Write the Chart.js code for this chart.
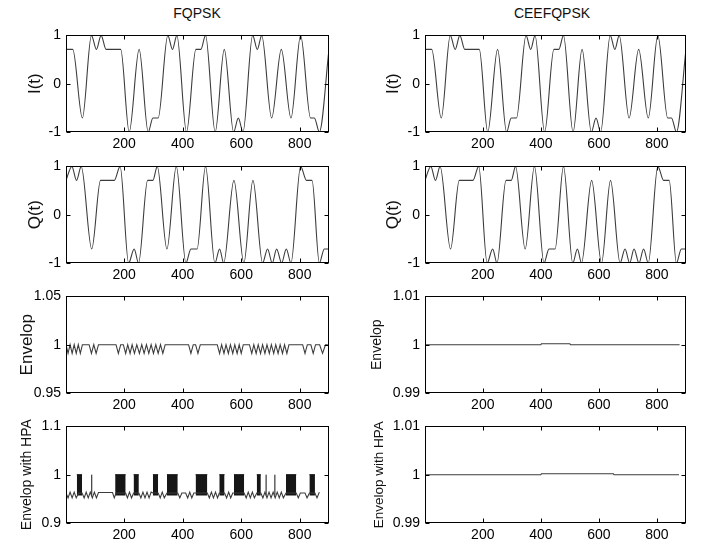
<!DOCTYPE html>
<html>
<head>
<meta charset="utf-8">
<script src="https://cdn.jsdelivr.net/npm/chart.js@4.4.1/dist/chart.umd.min.js"></script>
<style>
  body { margin: 0; background: #fff; }
  #page { position: relative; width: 702px; height: 546px; overflow: hidden; background: #fff; }
  canvas { position: absolute; }
  .head { position: absolute; top: 5px; font: 14px "Liberation Sans", Arial, sans-serif; color: #111; text-align: center; width: 200px; }
</style>
</head>
<body>
<div id="page">
  <div class="head" style="left:97px">FQPSK</div>
  <div class="head" style="left:452px">CEEFQPSK</div>
  <canvas id="fI"></canvas><canvas id="cI"></canvas>
  <canvas id="fQ"></canvas><canvas id="cQ"></canvas>
  <canvas id="fE"></canvas><canvas id="cE"></canvas>
  <canvas id="fH"></canvas><canvas id="cH"></canvas>
</div>
<script>
// sample axis
const xMin = 1, xMax = 900;
const xTicks = [200, 400, 600, 800];
const iqTicks = [-1, 0, 1];
const envTicksF = [0.95, 1, 1.05];
const hpaTicksF = [0.9, 1, 1.1];
const envTicksC = [0.99, 1, 1.01];

// baseband I channel, [sample, amplitude] at the turning points of the waveform
const fqpskI = [[1,0.71],[24,0.71],[57,-0.71],[88,1],[105,0.71],[121,1],[138,0.71],[188,0.71],
  [217,-1],[251,0.71],[282,-1],[298,-0.71],[316,-0.71],[349,1],[365,0.71],[380,1],[413,-1],
  [445,0.71],[462,0.71],[478,1],[511,-1],[542,0.71],[574,-1],[590,-0.71],[606,-1],[639,1],
  [655,0.71],[670,1],[704,-0.71],[737,0.71],[770,-0.71],[803,1],[837,-0.71],[850,-0.71],
  [867,-1],[900,0.71]];

// baseband Q channel
const fqpskQ = [[1,0.71],[21,1],[37,0.71],[53,1],[89,-0.71],[119,0.71],[166,0.71],[186,1],
  [215,-1],[234,-0.71],[249,-1],[280,0.71],[298,0.71],[313,1],[346,-0.71],[378,1],[411,-1],
  [428,-0.71],[449,-0.71],[478,1],[510,-1],[526,-0.71],[540,-1],[575,0.71],[609,-1],[640,0.71],
  [673,-1],[690,-0.71],[706,-1],[721,-0.71],[738,-1],[754,-0.71],[770,-1],[803,1],[823,0.71],
  [842,0.71],[867,-1],[884,-0.71],[900,-0.71]];

// CEEFQPSK keeps the same I/Q shape
const ceefI = fqpskI;
const ceefQ = fqpskQ;

// FQPSK envelope, dips below unity
const envF = [[1,1],[8,.991],[15,1],[22,.991],[29,1],[36,.991],[43,1],[50,.991],[57,1],[80,1],
  [88,.991],[96,1],[104,.991],[112,1],[172,1],[180,.991],[188,1],[197,1],[205,.991],[212,1],
  [220,.991],[227,1],[235,.991],[243,1],[252,.991],[260,1],[268,.991],[276,1],[284,.991],[292,1],
  [300,.991],[308,1],[316,.991],[324,1],[332,.991],[340,1],[420,1],[428,.991],[436,1],[444,1],
  [452,.991],[460,1],[518,1],[526,.991],[533,1],[541,.991],[548,1],[556,.991],[563,1],[571,.991],
  [578,1],[586,.991],[593,1],[600,.991],[607,1],[628,1],[636,.991],[643,1],[651,.991],[658,1],
  [666,.991],[673,1],[681,.991],[688,1],[696,.991],[703,1],[711,.991],[718,1],[726,.991],[733,1],
  [741,.991],[748,1],[756,.991],[763,1],[810,1],[818,.991],[826,1],[838,1],[846,.991],[854,1],
  [868,1],[878,.991],[888,1],[896,1]];

// FQPSK envelope after the HPA: lower trace
const hpaBaseF = [[1,.962],[8,.952],[15,.964],[22,.952],[29,.964],[36,.952],[44,.962],[56,.962],
  [63,.952],[70,.964],[77,.952],[84,.964],[91,.952],[98,.964],[105,.952],[112,.963],[160,.963],
  [166,.952],[172,.962],[205,.962],[211,.952],[218,.964],[225,.952],[232,.962],[250,.962],
  [257,.952],[264,.964],[271,.952],[278,.964],[285,.952],[292,.964],[298,.962],[316,.962],
  [323,.952],[330,.964],[337,.952],[346,.962],[383,.962],[390,.952],[397,.962],[410,.962],
  [417,.952],[424,.964],[431,.952],[438,.962],[444,.962],[484,.962],[491,.952],[498,.964],
  [505,.952],[512,.964],[519,.952],[525,.962],[543,.962],[550,.952],[557,.964],[564,.952],
  [571,.962],[575,.962],[610,.962],[617,.952],[624,.964],[631,.952],[638,.964],[645,.952],
  [653,.962],[667,.962],[674,.952],[681,.964],[688,.952],[695,.964],[702,.952],[709,.964],
  [716,.952],[723,.964],[730,.952],[737,.964],[744,.952],[753,.962],[788,.962],[795,.952],
  [802,.962],[818,.962],[825,.952],[833,.962],[852,.962],[859,.952],[867,.964]];
// sample ranges where the HPA output chatters up to 1
const hpaBursts = [[38,56],[169,205],[232,250],[298,316],[346,383],[444,484],[525,543],
  [575,610],[653,667],[753,788],[833,852]];
const hpaSpikes = [89, 685, 715];
const burstLow = 0.957;

// CEEFQPSK envelope stays at 1
const envC = [[1,1],[400,1],[402,1.0002],[500,1.0002],[502,1],[878,1]];
const hpaC = [[1,1],[400,1],[402,1.0002],[650,1.0002],[652,1],[876,1]];

const FONT = '"Liberation Sans", Arial, Helvetica, sans-serif';
const LINE = '#3c3c3c';

const pts = arr => arr.map(([x, y]) => ({ x, y }));

function trace(arr, smooth) {
  return {
    data: pts(arr), borderColor: LINE, borderWidth: 1.1, pointRadius: 0, fill: false,
    cubicInterpolationMode: smooth ? 'monotone' : 'default', tension: 0
  };
}

// box around the plot area with inward tick marks on all four sides
const framePlugin = {
  id: 'frame',
  afterDatasetsDraw(chart) {
    const { ctx, chartArea: a, scales: { x, y } } = chart;
    const L = Math.round(a.left) + 0.5, R = Math.round(a.right) - 0.5;
    const T = Math.round(a.top) + 0.5, B = Math.round(a.bottom) - 0.5;
    ctx.save();
    ctx.strokeStyle = '#000';
    ctx.lineWidth = 1;
    ctx.strokeRect(L, T, R - L, B - T);
    ctx.beginPath();
    x.ticks.forEach(t => {
      const px = Math.round(x.getPixelForValue(t.value)) + 0.5;
      ctx.moveTo(px, B); ctx.lineTo(px, B - 4);
      ctx.moveTo(px, T); ctx.lineTo(px, T + 4);
    });
    y.ticks.forEach(t => {
      const py = Math.round(y.getPixelForValue(t.value)) + 0.5;
      ctx.moveTo(L, py); ctx.lineTo(L + 4, py);
      ctx.moveTo(R, py); ctx.lineTo(R - 4, py);
    });
    ctx.stroke();
    ctx.restore();
  }
};

const cols = {
  left:  { left: 0,   width: 336, yWidth: 66, padRight: 7 },
  right: { left: 351, width: 351, yWidth: 74, padRight: 16 }
};
const rowTops = [32, 163, 293, 423];

function panel(id, col, row, o) {
  const c = cols[col];
  const el = document.getElementById(id);
  el.width = c.width; el.height = 136;
  el.style.left = c.left + 'px';
  el.style.top = (rowTops[row] - 10) + 'px';
  return new Chart(el, {
    type: 'line',
    data: { datasets: o.datasets },
    options: {
      responsive: false,
      animation: false,
      events: [],
      layout: { padding: { top: 10, right: c.padRight, left: 0, bottom: 0 } },
      plugins: { legend: { display: false }, tooltip: { enabled: false } },
      scales: {
        x: {
          type: 'linear', min: xMin, max: xMax,
          grid: { display: false, drawTicks: false }, border: { display: false },
          afterBuildTicks: s => { s.ticks = xTicks.map(v => ({ value: v })); },
          afterFit: s => { s.height = 26; },
          ticks: { color: '#000', font: { family: FONT, size: 14 }, padding: 4, maxRotation: 0 }
        },
        y: {
          type: 'linear', min: o.ticks[0], max: o.ticks[o.ticks.length - 1],
          grid: { display: false, drawTicks: false }, border: { display: false },
          afterBuildTicks: s => { s.ticks = o.ticks.map(v => ({ value: v })); },
          afterFit: s => { s.width = c.yWidth; },
          ticks: { color: '#000', font: { family: FONT, size: 14 }, padding: 5, callback: v => String(v) },
          title: {
            display: true, text: o.label, color: '#111',
            font: { family: FONT, size: o.labelSize },
            padding: { top: o.labelX - o.labelSize * 0.6, bottom: 0 }
          }
        }
      }
    },
    plugins: [framePlugin]
  });
}

panel('fI', 'left', 0, { datasets: [trace(fqpskI, true)], ticks: iqTicks, label: 'I(t)', labelSize: 17, labelX: 35 });
panel('cI', 'right', 0, { datasets: [trace(ceefI, true)], ticks: iqTicks, label: 'I(t)', labelSize: 17, labelX: 42 });
panel('fQ', 'left', 1, { datasets: [trace(fqpskQ, true)], ticks: iqTicks, label: 'Q(t)', labelSize: 17, labelX: 35 });
panel('cQ', 'right', 1, { datasets: [trace(ceefQ, true)], ticks: iqTicks, label: 'Q(t)', labelSize: 17, labelX: 42 });
panel('fE', 'left', 2, { datasets: [trace(envF, false)], ticks: envTicksF, label: 'Envelop', labelSize: 17, labelX: 27 });
panel('cE', 'right', 2, { datasets: [trace(envC, false)], ticks: envTicksC, label: 'Envelop', labelSize: 14, labelX: 26 });

const hpaSets = [trace(hpaBaseF, false)];
hpaBursts.forEach(([a, b]) => {
  hpaSets.push({
    data: pts([[a, 1], [b, 1]]), borderColor: '#111', borderWidth: 1, pointRadius: 0,
    backgroundColor: '#161616', fill: { value: burstLow }
  });
});
hpaSpikes.forEach(s => {
  hpaSets.push({ data: pts([[s, burstLow], [s, 1]]), borderColor: '#111', borderWidth: 1, pointRadius: 0, fill: false });
});
panel('fH', 'left', 3, { datasets: hpaSets, ticks: hpaTicksF, label: 'Envelop with HPA', labelSize: 14, labelX: 27 });
panel('cH', 'right', 3, { datasets: [trace(hpaC, false)], ticks: envTicksC, label: 'Envelop with HPA', labelSize: 13.5, labelX: 28 });
</script>
</body>
</html>
